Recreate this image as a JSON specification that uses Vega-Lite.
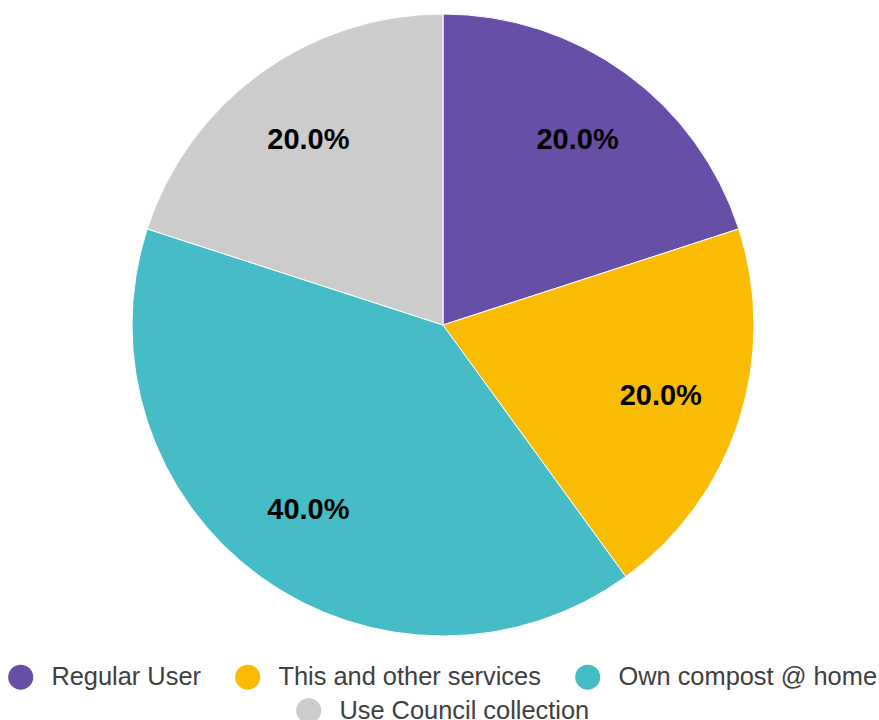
{
  "$schema": "https://vega.github.io/schema/vega-lite/v6.json",
  "width": 622,
  "height": 622,
  "autosize": {"type": "none"},
  "padding": {"left": 132, "top": 14, "right": 125, "bottom": 84},
  "background": "white",
  "data": {
    "values": [
      {"category": "Regular User", "share": 0.2, "order": 1},
      {"category": "This and other services", "share": 0.2, "order": 2},
      {"category": "Own compost @ home", "share": 0.4, "order": 3},
      {"category": "Use Council collection", "share": 0.2, "order": 4}
    ]
  },
  "layer": [
    {
      "transform": [
        {"stack": "share", "groupby": [], "sort": [{"field": "order", "order": "ascending"}], "as": ["s0", "s1"]},
        {"filter": "datum.category !== 'Use Council collection'"}
      ],
      "mark": {"type": "arc", "stroke": "white", "strokeWidth": 1},
      "encoding": {
        "theta": {"field": "s0", "type": "quantitative", "scale": {"domain": [0, 1]}},
        "theta2": {"field": "s1"},
        "color": {
          "field": "category",
          "type": "nominal",
          "sort": ["Regular User", "This and other services", "Own compost @ home"],
          "scale": {
            "domain": ["Regular User", "This and other services", "Own compost @ home"],
            "range": ["#674EA7", "#F9BC02", "#46BDC6"]
          },
          "legend": {"orient": "bottom", "direction": "horizontal", "title": null}
        }
      }
    },
    {
      "transform": [
        {"stack": "share", "groupby": [], "sort": [{"field": "order", "order": "ascending"}], "as": ["s0", "s1"]},
        {"filter": "datum.category === 'Use Council collection'"}
      ],
      "mark": {"type": "arc", "stroke": "white", "strokeWidth": 1},
      "encoding": {
        "theta": {"field": "s0", "type": "quantitative", "scale": {"domain": [0, 1]}},
        "theta2": {"field": "s1"},
        "color": {
          "field": "category",
          "type": "nominal",
          "scale": {"domain": ["Use Council collection"], "range": ["#CCCCCC"]},
          "legend": {"orient": "bottom", "direction": "horizontal", "title": null}
        }
      }
    },
    {
      "mark": {"type": "text", "radius": 229, "fontSize": 29, "fontWeight": "bold", "font": "Liberation Sans", "color": "#000000"},
      "encoding": {
        "theta": {"field": "share", "type": "quantitative", "stack": true, "scale": {"domain": [0, 1]}},
        "detail": {"field": "category", "type": "nominal"},
        "order": {"field": "order", "type": "quantitative"},
        "text": {"field": "share", "type": "quantitative", "format": ".1%"}
      }
    }
  ],
  "resolve": {"scale": {"color": "independent"}},
  "config": {
    "view": {"stroke": null},
    "legend": {
      "offset": 28,
      "symbolType": "circle",
      "symbolSize": 625,
      "symbolStrokeWidth": 0,
      "labelFont": "Liberation Sans",
      "labelFontSize": 25.4,
      "labelColor": "#404040",
      "labelOffset": 18,
      "labelLimit": 500,
      "columnPadding": 34,
      "layout": {
        "bottom": {"direction": "vertical", "anchor": "middle", "center": true, "margin": 7}
      }
    }
  }
}
